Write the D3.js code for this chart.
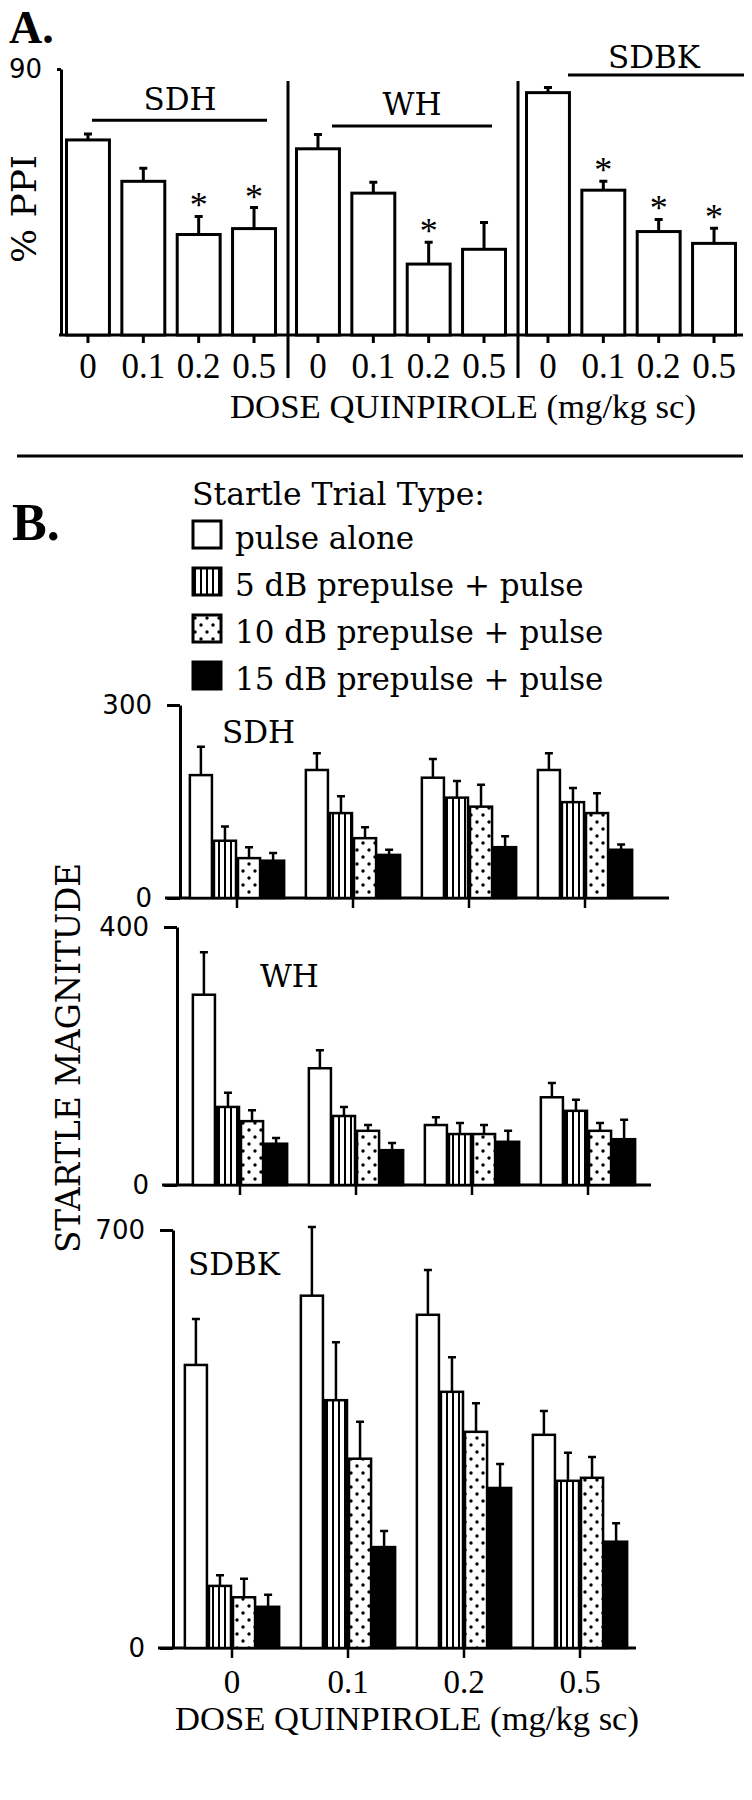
<!DOCTYPE html>
<html lang='en'>
<head>
<meta charset='UTF-8'>
<title>Quinpirole: PPI and startle magnitude</title>
<script src="https://d3js.org/d3.v7.min.js"></script>
<style>
body { margin: 0; background: #fff; }
svg { display: block; }
.serif { font-family: 'DejaVu Serif', serif; }
.times { font-family: 'Liberation Serif', 'Times New Roman', serif; }
.sans { font-family: 'DejaVu Sans', sans-serif; }
</style>
</head>
<body>
<script>

// ---- data ----

var doses = ['0', '0.1', '0.2', '0.5'];
var strains = ['SDH', 'WH', 'SDBK'];

// panel A: % PPI, mean and SEM per dose
var ppiSDH = [66, 52, 34, 36];
var ppiWH = [63, 48, 24, 29];
var ppiSDBK = [82, 49, 35, 31];
var ppiSemSDH = [2, 4.4, 6.1, 7.1];
var ppiSemWH = [4.8, 3.7, 7.4, 9.1];
var ppiSemSDBK = [1.7, 3, 4.1, 5.1];
var sigSDH = [false, false, true, true];
var sigWH = [false, false, true, false];
var sigSDBK = [false, true, true, true];

// panel B: startle magnitude, rows = dose, columns = trial type
var trialTypes = ['pulse alone', '5 dB prepulse + pulse', '10 dB prepulse + pulse', '15 dB prepulse + pulse'];
var startleSDH = [[191, 89, 62, 58], [199, 132, 93, 67], [187, 156, 142, 79], [199, 149, 132, 75]];
var semSDH = [[44, 22, 17, 12], [26, 26, 17, 8], [29, 26, 34, 17], [26, 22, 31, 8]];
var startleWH = [[295, 121, 99, 64], [181, 107, 84, 54], [93, 79, 79, 67], [136, 115, 84, 71]];
var semWH = [[66, 22, 17, 9], [28, 14, 9, 11], [12, 17, 14, 17], [22, 17, 12, 30]];
var startleSDBK = [[474, 104, 85, 69], [590, 415, 317, 169], [558, 429, 362, 268], [357, 280, 285, 178]];
var semSDBK = [[77, 18, 31, 20], [115, 97, 62, 27], [75, 58, 48, 40], [40, 47, 35, 31]];

// ---- setup ----

var svg = d3.select('body').append('svg').attr('width', 752).attr('height', 1800);

var defs = svg.append('defs');
var stripes = defs.append('pattern').attr('id', 'stripes')
  .attr('patternUnits', 'userSpaceOnUse').attr('width', 6).attr('height', 10);
stripes.append('rect').attr('width', 6).attr('height', 10).attr('fill', '#fff');
stripes.append('rect').attr('x', 2).attr('width', 2).attr('height', 10).attr('fill', '#000');

var dots = defs.append('pattern').attr('id', 'dots')
  .attr('patternUnits', 'userSpaceOnUse').attr('width', 12).attr('height', 14);
dots.append('rect').attr('width', 12).attr('height', 14).attr('fill', '#fff');
dots.append('circle').attr('cx', 3).attr('cy', 3).attr('r', 1.7).attr('fill', '#000');
dots.append('circle').attr('cx', 9).attr('cy', 10).attr('r', 1.7).attr('fill', '#000');

var fills = ['#fff', 'url(#stripes)', 'url(#dots)', '#000'];

function styleAxis(sel, width) {
  sel.select('.domain').attr('stroke-width', width);
  sel.selectAll('.tick line').attr('stroke-width', width);
}

// ---- panel A ----

var ppi = [ppiSDH, ppiWH, ppiSDBK];
var ppiSem = [ppiSemSDH, ppiSemWH, ppiSemSDBK];
var sig = [sigSDH, sigWH, sigSDBK];

var yA = d3.scaleLinear().domain([0, 90]).range([335, 69]);
var gxA = d3.scaleBand().domain(strains).range([61, 751]);
var bxA = d3.scaleBand().domain(doses).range([4, 216]).paddingInner(0.17);

// strain titles: line extent (relative to group) and heights in % PPI units
var titleA = [
  { line: [31, 206], cx: 119, ly: 72.7, ty: 76 },
  { line: [41, 201], cx: 121, ly: 70.7, ty: 74.4 },
  { line: [47, 223], cx: 133, ly: 88, ty: 90.4 }
];

svg.append('text').attr('class', 'times').attr('x', 9).attr('y', 43)
  .style('font-size', '46px').style('font-weight', 'bold').text('A.');

svg.append('text').attr('class', 'serif')
  .attr('transform', 'translate(36,209) rotate(-90)')
  .attr('text-anchor', 'middle').attr('textLength', 108).attr('lengthAdjust', 'spacingAndGlyphs')
  .style('font-size', '33px').text('% PPI');

// dividers between strains
strains.slice(1).forEach(function (s) {
  svg.append('line')
    .attr('x1', gxA(s) - 3).attr('x2', gxA(s) - 3)
    .attr('y1', 81).attr('y2', 378)
    .attr('stroke', '#000').attr('stroke-width', 3);
});

svg.append('line')
  .attr('x1', 59).attr('x2', 743).attr('y1', yA(0)).attr('y2', yA(0))
  .attr('stroke', '#000').attr('stroke-width', 3);

var yAxisA = svg.append('g').attr('transform', 'translate(61,0)')
  .call(d3.axisLeft(yA).tickValues([90]).tickSize(4).tickSizeOuter(0).tickPadding(15));
styleAxis(yAxisA, 3);
yAxisA.selectAll('text').attr('class', 'sans').style('font-size', '26px');

strains.forEach(function (s, i) {
  var g = svg.append('g').attr('transform', 'translate(' + gxA(s) + ',0)');
  var rows = doses.map(function (d, j) {
    return { dose: d, mean: ppi[i][j], sem: ppiSem[i][j], sig: sig[i][j] };
  });

  g.selectAll('.err').data(rows).enter().append('path')
    .attr('fill', 'none').attr('stroke', '#000').attr('stroke-width', 3)
    .attr('d', function (r) {
      var cx = bxA(r.dose) + bxA.bandwidth() / 2;
      var t = yA(r.mean + r.sem);
      return 'M' + cx + ',' + yA(r.mean) + 'V' + t + 'M' + (cx - 4) + ',' + t + 'H' + (cx + 4);
    });

  g.selectAll('.bar').data(rows).enter().append('rect')
    .attr('x', function (r) { return bxA(r.dose) + 1.5; })
    .attr('y', function (r) { return yA(r.mean); })
    .attr('width', bxA.bandwidth() - 3)
    .attr('height', function (r) { return yA(0) - yA(r.mean); })
    .attr('fill', '#fff').attr('stroke', '#000').attr('stroke-width', 3);

  g.selectAll('.star').data(rows.filter(function (r) { return r.sig; })).enter().append('text')
    .attr('class', 'times').attr('text-anchor', 'middle')
    .attr('x', function (r) { return bxA(r.dose) + bxA.bandwidth() / 2; })
    .attr('y', function (r) { return yA(r.mean + r.sem) + 1; })
    .style('font-size', '36px').text('*');

  var ax = g.append('g').attr('transform', 'translate(0,' + yA(0) + ')')
    .call(d3.axisBottom(bxA).tickSize(8).tickSizeOuter(0));
  ax.select('.domain').remove();
  ax.selectAll('.tick line').attr('stroke-width', 3);
  ax.selectAll('text').attr('class', 'times').attr('y', 43).attr('dy', 0).style('font-size', '35px');

  var t = titleA[i];
  g.append('line').attr('x1', t.line[0]).attr('x2', t.line[1])
    .attr('y1', yA(t.ly)).attr('y2', yA(t.ly))
    .attr('stroke', '#000').attr('stroke-width', 3);
  g.append('text').attr('class', 'serif').attr('text-anchor', 'middle')
    .attr('x', t.cx).attr('y', yA(t.ty)).style('font-size', '31px').text(s);
});

svg.append('text').attr('class', 'times').attr('x', 463).attr('y', 418)
  .attr('text-anchor', 'middle').attr('textLength', 466).attr('lengthAdjust', 'spacingAndGlyphs')
  .style('font-size', '34px').text('DOSE QUINPIROLE (mg/kg sc)');

svg.append('line').attr('x1', 17).attr('x2', 743).attr('y1', 456).attr('y2', 456)
  .attr('stroke', '#000').attr('stroke-width', 3);

// ---- panel B ----

svg.append('text').attr('class', 'times').attr('x', 12).attr('y', 540)
  .style('font-size', '52px').style('font-weight', 'bold').text('B.');

svg.append('text').attr('class', 'serif').attr('x', 192).attr('y', 505)
  .attr('textLength', 293).attr('lengthAdjust', 'spacingAndGlyphs')
  .style('font-size', '31px').text('Startle Trial Type:');

var legend = svg.selectAll('.legend').data(trialTypes).enter().append('g')
  .attr('transform', function (d, i) { return 'translate(192,' + (549 + i * 47) + ')'; });
legend.append('rect').attr('x', 1).attr('y', -28).attr('width', 28).attr('height', 27)
  .attr('fill', function (d, i) { return fills[i]; })
  .attr('stroke', '#000').attr('stroke-width', 3);
legend.append('text').attr('class', 'serif').attr('x', 43)
  .style('font-size', '31px').text(function (d) { return d; });

var panelsB = [
  { name: 'SDH', means: startleSDH, sems: semSDH, max: 300, top: 705, base: 898, axisX: 180, x0: 179, xEnd: 669, label: [222, 241] },
  { name: 'WH', means: startleWH, sems: semWH, max: 400, top: 927, base: 1185, axisX: 177, x0: 182, xEnd: 651, label: [260, 307] },
  { name: 'SDBK', means: startleSDBK, sems: semSDBK, max: 700, top: 1230, base: 1648, axisX: 173, x0: 174, xEnd: 636, label: [188, 625] }
];

panelsB.forEach(function (p, pi) {
  var y = d3.scaleLinear().domain([0, p.max]).range([p.base, p.top]);
  var gx = d3.scaleBand().domain(doses).range([p.x0, p.x0 + 464]).paddingInner(0.17).paddingOuter(0.085);
  var bx = d3.scaleBand().domain(trialTypes).range([0, gx.bandwidth()]);

  var rows = [];
  doses.forEach(function (d, i) {
    trialTypes.forEach(function (t, j) {
      rows.push({ dose: d, type: t, k: j, mean: p.means[i][j], sem: p.sems[i][j] });
    });
  });

  svg.append('line')
    .attr('x1', p.axisX - 15).attr('x2', p.xEnd).attr('y1', y(0)).attr('y2', y(0))
    .attr('stroke', '#000').attr('stroke-width', 3);

  var yAxis = svg.append('g').attr('transform', 'translate(' + p.axisX + ',0)')
    .call(d3.axisLeft(y).tickValues([0, p.max]).tickSize(13).tickSizeOuter(0).tickPadding(15));
  styleAxis(yAxis, 3);
  yAxis.selectAll('text').attr('class', 'sans').style('font-size', '26px');

  svg.selectAll('.err' + pi).data(rows).enter().append('path')
    .attr('fill', 'none').attr('stroke', '#000').attr('stroke-width', 2.5)
    .attr('d', function (r) {
      var cx = gx(r.dose) + bx(r.type) + bx.bandwidth() / 2;
      var t = y(r.mean + r.sem);
      return 'M' + cx + ',' + y(r.mean) + 'V' + t + 'M' + (cx - 4) + ',' + t + 'H' + (cx + 4);
    });

  svg.selectAll('.bar' + pi).data(rows).enter().append('rect')
    .attr('x', function (r) { return gx(r.dose) + bx(r.type) + 1; })
    .attr('y', function (r) { return y(r.mean); })
    .attr('width', bx.bandwidth() - 2)
    .attr('height', function (r) { return y(0) - y(r.mean); })
    .attr('fill', function (r) { return fills[r.k]; })
    .attr('stroke', '#000').attr('stroke-width', 2.5);

  var xAxis = svg.append('g').attr('transform', 'translate(0,' + y(0) + ')')
    .call(d3.axisBottom(gx).tickSize(10).tickSizeOuter(0));
  xAxis.select('.domain').remove();
  xAxis.selectAll('.tick line').attr('stroke-width', 2.5);
  if (pi === panelsB.length - 1) {
    xAxis.selectAll('text').attr('class', 'times').attr('y', 45).attr('dy', 0).style('font-size', '33px');
  } else {
    xAxis.selectAll('text').remove();
  }

  svg.append('text').attr('class', 'serif')
    .attr('x', p.label[0]).attr('y', y(p.label[1]))
    .style('font-size', '31px').text(p.name);
});

svg.append('text').attr('class', 'serif')
  .attr('transform', 'translate(80,1058) rotate(-90)')
  .attr('text-anchor', 'middle').attr('textLength', 390).attr('lengthAdjust', 'spacingAndGlyphs')
  .style('font-size', '34px').text('STARTLE MAGNITUDE');

svg.append('text').attr('class', 'times').attr('x', 407).attr('y', 1730)
  .attr('text-anchor', 'middle').attr('textLength', 464).attr('lengthAdjust', 'spacingAndGlyphs')
  .style('font-size', '33px').text('DOSE QUINPIROLE (mg/kg sc)');

</script>
</body>
</html>
